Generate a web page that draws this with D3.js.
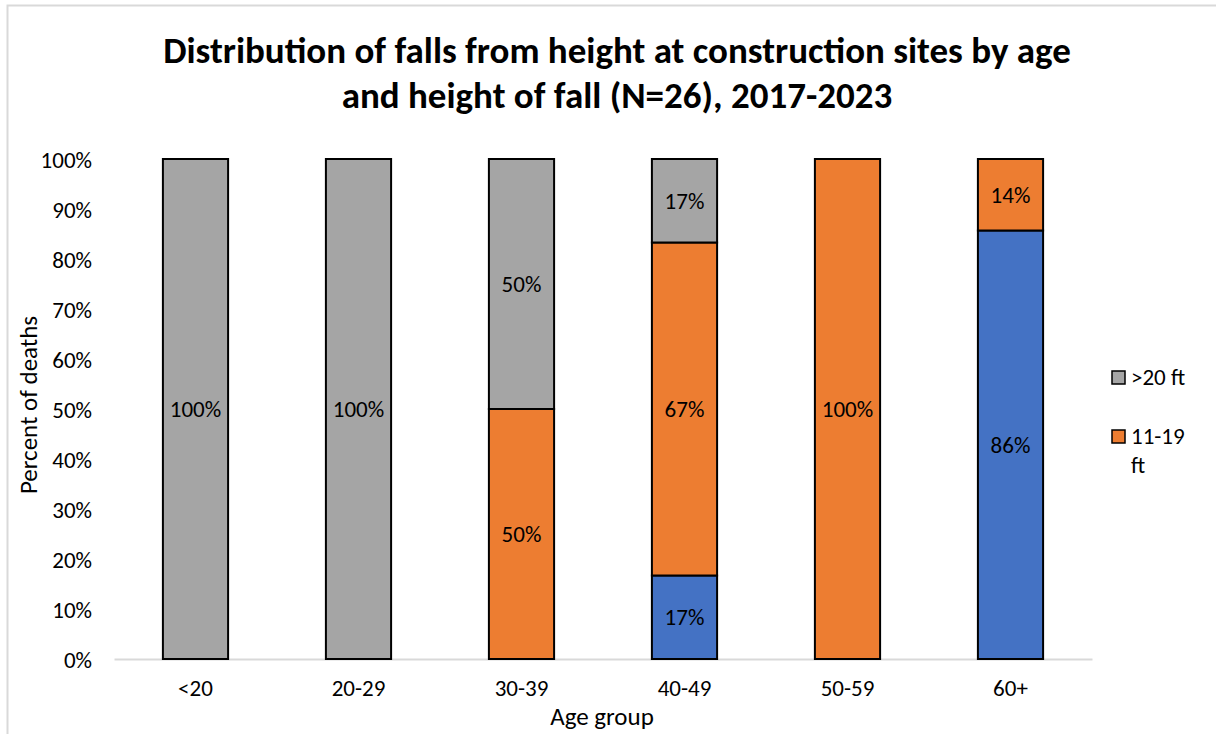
<!DOCTYPE html>
<html>
<head>
<meta charset="utf-8">
<script src="https://cdn.jsdelivr.net/npm/d3@7"></script>
<style>
  html, body { margin: 0; padding: 0; background: #fff; }
  svg text { font-family: Carlito, Calibri, Lato, "Open Sans", sans-serif; fill: #000; }
</style>
</head>
<body>
<svg id="chart" width="1216" height="734"></svg>
<script>
// Age groups along the x axis
const ageGroups = ["<20", "20-29", "30-39", "40-49", "50-59", "60+"];

// Share of deaths (%) by height of fall, per age group
const lowFalls  = [0, 0, 0, 16.7, 0, 85.7];     // blue segment (bottom)
const midFalls  = [0, 0, 50, 66.6, 100, 14.3];  // 11-19 ft
const highFalls = [100, 100, 50, 16.7, 0, 0];   // >20 ft

const seriesNames = ["0-10 ft", "11-19 ft", ">20 ft"];
const seriesColors = ["#4472C4", "#ED7D31", "#A5A5A5"];

const yTicks = [0, 10, 20, 30, 40, 50, 60, 70, 80, 90, 100];

const titleLines = [
  "Distribution of falls from height at construction sites by age",
  "and height of fall (N=26), 2017-2023"
];

const svg = d3.select("#chart");
const W = 1216, H = 734;
const small = "23px";

// chart frame
svg.append("path")
  .attr("d", `M7.5,${H} V5.5 H${W}`)
  .attr("fill", "none")
  .attr("stroke", "#d9d9d9")
  .attr("stroke-width", 2);

const plot = { left: 114, right: 1092, top: 159, bottom: 659 };

const x = d3.scaleBand()
  .domain(ageGroups)
  .range([plot.left, plot.right])
  .paddingInner(0.6)
  .paddingOuter(0.3);

const y = d3.scaleLinear()
  .domain([0, 100])
  .range([plot.bottom, plot.top]);

// stacked data
const rows = ageGroups.map((g, i) => ({
  group: g,
  [seriesNames[0]]: lowFalls[i],
  [seriesNames[1]]: midFalls[i],
  [seriesNames[2]]: highFalls[i]
}));
const stack = d3.stack().keys(seriesNames)(rows);

// title
svg.append("g").selectAll("text")
  .data(titleLines)
  .join("text")
  .attr("x", 617)
  .attr("y", (d, i) => 63 + i * 45)
  .attr("text-anchor", "middle")
  .style("font-size", "37px")
  .style("font-weight", "bold")
  .text(d => d);

// y axis (labels only)
const yAxis = d3.axisLeft(y)
  .tickValues(yTicks)
  .tickFormat(d => d + "%")
  .tickSize(0)
  .tickPadding(22);
const yg = svg.append("g")
  .attr("transform", `translate(${plot.left},0)`)
  .call(yAxis);
yg.select(".domain").remove();
yg.selectAll("text").style("font-size", small).attr("dy", "0.35em");

// x axis baseline
const xAxis = d3.axisBottom(x).tickSize(0).tickPadding(21);
const xg = svg.append("g")
  .attr("transform", `translate(0,${plot.bottom})`)
  .call(xAxis);
xg.select(".domain").attr("stroke", "#d9d9d9").attr("stroke-width", 2);
xg.selectAll("text").style("font-size", small);

// bars
const layers = svg.append("g").selectAll("g")
  .data(stack)
  .join("g")
  .attr("fill", (d, i) => seriesColors[i]);

layers.selectAll("rect")
  .data(d => d.filter(s => s[1] - s[0] > 0))
  .join("rect")
  .attr("x", d => x(d.data.group))
  .attr("width", x.bandwidth())
  .attr("y", d => y(d[1]))
  .attr("height", d => y(d[0]) - y(d[1]))
  .attr("stroke", "#000")
  .attr("stroke-width", 2);

// value labels
layers.selectAll("text")
  .data(d => d.filter(s => s[1] - s[0] > 0))
  .join("text")
  .attr("x", d => x(d.data.group) + x.bandwidth() / 2)
  .attr("y", d => y((d[0] + d[1]) / 2))
  .attr("dy", "0.35em")
  .attr("text-anchor", "middle")
  .style("font-size", small)
  .text(d => Math.round(d[1] - d[0]) + "%");

// axis titles
svg.append("text")
  .attr("transform", "translate(37,405) rotate(-90)")
  .attr("text-anchor", "middle")
  .style("font-size", "25px")
  .text("Percent of deaths");

svg.append("text")
  .attr("x", 602)
  .attr("y", 725)
  .attr("text-anchor", "middle")
  .style("font-size", "25px")
  .text("Age group");

// legend (>20 ft above 11-19 ft)
const legendItems = [
  { name: seriesNames[2], color: seriesColors[2], y: 377, lines: [">20 ft"] },
  { name: seriesNames[1], color: seriesColors[1], y: 436, lines: ["11-19", "ft"] }
];
const lg = svg.append("g").selectAll("g")
  .data(legendItems)
  .join("g")
  .attr("transform", d => `translate(1111,${d.y})`);
lg.append("rect")
  .attr("x", 1).attr("y", -6)
  .attr("width", 13).attr("height", 13)
  .attr("fill", d => d.color)
  .attr("stroke", "#000")
  .attr("stroke-width", 1.5);
lg.each(function(d) {
  d3.select(this).selectAll("text")
    .data(d.lines)
    .join("text")
    .attr("x", 20)
    .attr("y", (t, i) => i * 29)
    .attr("dy", "0.35em")
    .style("font-size", small)
    .text(t => t);
});
</script>
</body>
</html>
